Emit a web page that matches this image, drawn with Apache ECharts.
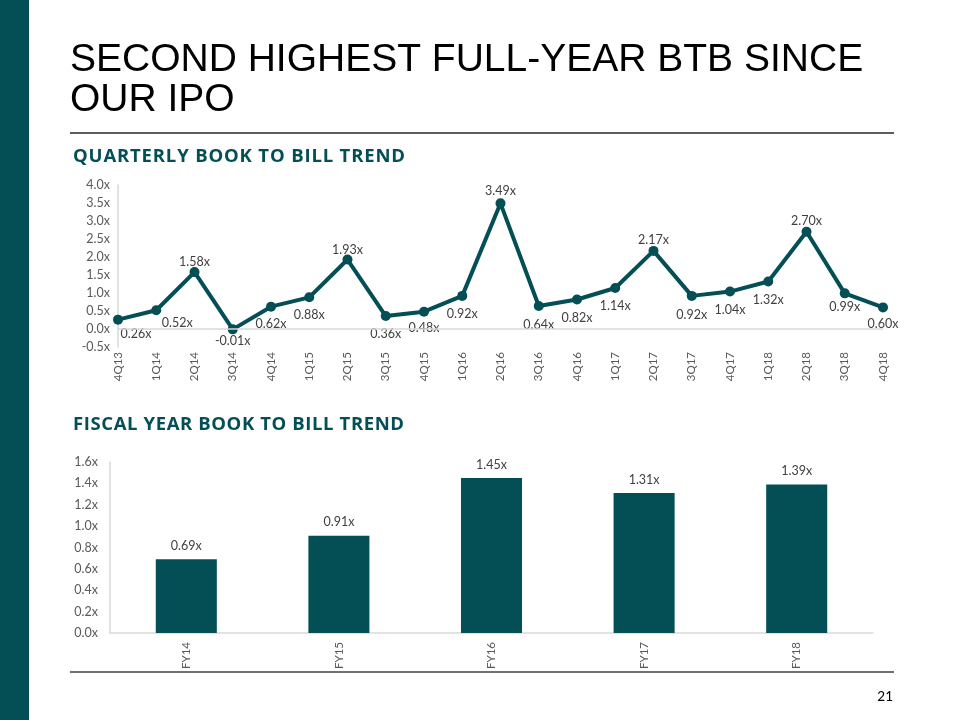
<!DOCTYPE html>
<html>
<head>
<meta charset="utf-8">
<script src="https://cdn.jsdelivr.net/npm/echarts@6/dist/echarts.min.js"></script>
<style>html,body{margin:0;padding:0;background:#fff;}#c{width:960px;height:720px;}</style>
</head>
<body>
<div id="c"></div>
<script>
// ---- data ----
var quarters = ['4Q13','1Q14','2Q14','3Q14','4Q14','1Q15','2Q15','3Q15','4Q15','1Q16','2Q16','3Q16','4Q16','1Q17','2Q17','3Q17','4Q17','1Q18','2Q18','3Q18','4Q18'];
var quarterlyBtb = [0.26,0.52,1.58,-0.01,0.62,0.88,1.93,0.36,0.48,0.92,3.49,0.64,0.82,1.14,2.17,0.92,1.04,1.32,2.70,0.99,0.60];
var fiscalYears = ['FY14','FY15','FY16','FY17','FY18'];
var fiscalBtb = [0.69,0.91,1.45,1.31,1.39];
var titleLines = ['SECOND HIGHEST FULL-YEAR BTB SINCE','OUR IPO'];
var subtitle1 = 'QUARTERLY BOOK TO BILL TREND';
var subtitle2 = 'FISCAL YEAR BOOK TO BILL TREND';
var pageNumber = '21';

// ---- styles ----
var TEAL = '#044f55';
var labelOffsets = [[18,14],[21,13],[0,-10],[0,12],[0,17],[0,18],[0,-10],[0,18],[0,16],[0,18],[0,-12],[0,19],[0,18],[0,18],[0,-11],[0,19],[0,18],[0,18],[0,-11],[0,14],[0,17]];

var lineData = quarterlyBtb.map(function(v,i){
  return {value:v, label:{offset:labelOffsets[i]}};
});

// letter-spaced heading built from single-character text elements
function spacedText(str, x, y, font, color, targetW){
  var ctx = document.createElement('canvas').getContext('2d');
  ctx.font = font;
  var chars = str.split('');
  var widths = chars.map(function(c){ return ctx.measureText(c).width; });
  var natural = widths.reduce(function(a,b){return a+b;},0);
  var sp = (targetW - natural)/(chars.length-1);
  var children = [], cx = 0;
  chars.forEach(function(c,i){
    children.push({type:'text',x:cx,y:0,style:{text:c,font:font,fill:color,verticalAlign:'middle'}});
    cx += widths[i] + sp;
  });
  return {type:'group',x:x,y:y,children:children,silent:true};
}

var chart = echarts.init(document.getElementById('c'));
var fx = function(v){ return v.toFixed(1)+'x'; };
var SUBFONT = 'bold 18.5px "Open Sans"';
chart.setOption({
  animation:false,
  backgroundColor:'#fff',
  textStyle:{fontFamily:'Lato'},
  grid:[
    {left:118,right:77,top:185,bottom:373},
    {left:110,right:87,top:462,bottom:87}
  ],
  xAxis:[
    {type:'category',gridIndex:0,data:quarters,boundaryGap:false,
     axisLine:{show:false,onZero:false},axisTick:{show:false},
     axisLabel:{rotate:90,color:'#595959',fontSize:11.5,fontFamily:'Lato',margin:5}},
    {type:'category',gridIndex:1,data:fiscalYears,
     axisLine:{show:true,lineStyle:{color:'#d9d9d9',width:1.5}},axisTick:{show:false},
     axisLabel:{rotate:90,color:'#595959',fontSize:11.5,fontFamily:'Lato',margin:9}}
  ],
  yAxis:[
    {type:'value',gridIndex:0,min:-0.5,max:4,interval:0.5,
     axisLine:{show:true,lineStyle:{color:'#d9d9d9',width:1.5}},axisTick:{show:false},splitLine:{show:false},
     axisLabel:{formatter:fx,color:'#595959',fontSize:12.5,fontFamily:'Lato',margin:8}},
    {type:'value',gridIndex:1,min:0,max:1.6,interval:0.2,
     axisLine:{show:true,lineStyle:{color:'#d9d9d9',width:1.5}},axisTick:{show:false},splitLine:{show:false},
     axisLabel:{formatter:fx,color:'#595959',fontSize:12.5,fontFamily:'Lato',margin:12}}
  ],
  series:[
    {type:'line',xAxisIndex:0,yAxisIndex:0,data:lineData,
     lineStyle:{color:TEAL,width:4},itemStyle:{color:TEAL},
     symbol:'circle',symbolSize:10,
     label:{show:true,position:'inside',color:'#404040',fontSize:12.5,fontFamily:'Lato',
       formatter:function(p){return p.value.toFixed(2)+'x';}},
     markLine:{silent:true,symbol:'none',label:{show:false},
       lineStyle:{color:'#d9d9d9',width:1.5,type:'solid'},data:[{yAxis:0}]},
     z:3},
    {type:'bar',xAxisIndex:1,yAxisIndex:1,data:fiscalBtb,barWidth:'40%',
     itemStyle:{color:TEAL},
     label:{show:true,position:'top',distance:7,color:'#404040',fontSize:12.5,fontFamily:'Lato',
       formatter:function(p){return p.value.toFixed(2)+'x';}}}
  ],
  graphic:[
    {type:'rect',shape:{x:0,y:0,width:29,height:720},style:{fill:TEAL},silent:true},
    {type:'text',x:70,y:60,style:{text:titleLines[0],font:'39px "Liberation Sans"',fill:'#000',verticalAlign:'middle'}},
    {type:'text',x:70,y:100,style:{text:titleLines[1],font:'39px "Liberation Sans"',fill:'#000',verticalAlign:'middle'}},
    {type:'line',shape:{x1:70,y1:133,x2:894,y2:133},style:{stroke:'#262626',lineWidth:1.5}},
    spacedText(subtitle1, 73, 157, SUBFONT, TEAL, 332),
    spacedText(subtitle2, 73, 425, SUBFONT, TEAL, 331),
    {type:'line',shape:{x1:70,y1:672,x2:894,y2:672},style:{stroke:'#404040',lineWidth:1.5}},
    {type:'text',x:893,y:697,style:{text:pageNumber,font:'13.5px Lato',fill:'#000',align:'right',verticalAlign:'middle'}}
  ]
});
</script>
</body>
</html>
